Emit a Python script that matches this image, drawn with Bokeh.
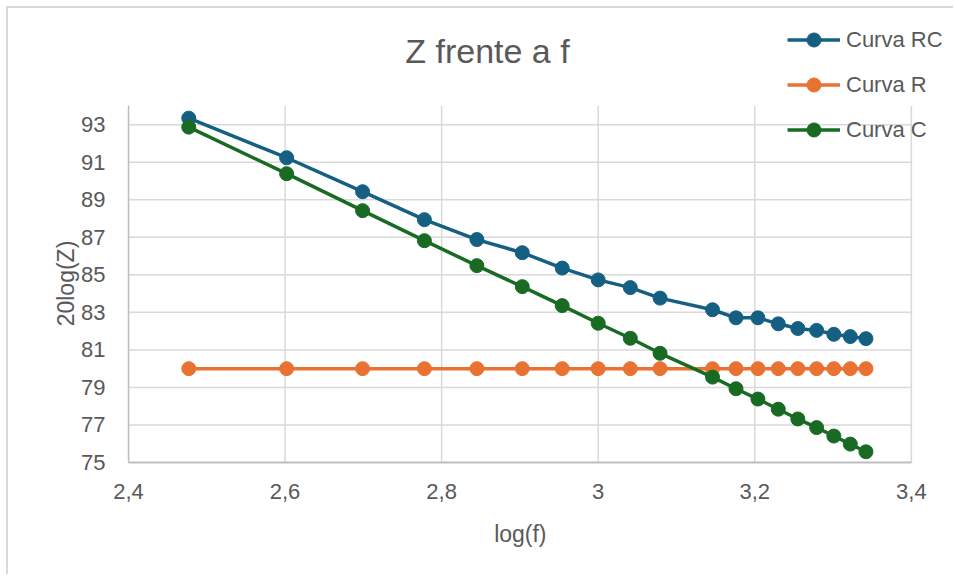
from bokeh.plotting import figure
from bokeh.models import FixedTicker, CustomJSTickFormatter, Legend, LegendItem, Range1d, Label
from bokeh.embed import file_html
from bokeh.resources import INLINE

# ---- data ----
log_f = [2.477, 2.602, 2.699, 2.778, 2.845, 2.903, 2.954, 3.000, 3.041, 3.079,
         3.146, 3.176, 3.204, 3.230, 3.255, 3.279, 3.301, 3.322, 3.342]
curva_rc = [93.35, 91.24, 89.43, 87.94, 86.88, 86.18, 85.36, 84.73, 84.32, 83.76,
            83.14, 82.71, 82.71, 82.39, 82.14, 82.04, 81.83, 81.71, 81.60]
curva_r = [80.0, 80.0, 80.0, 80.0, 80.0, 80.0, 80.0, 80.0, 80.0, 80.0,
           80.0, 80.0, 80.0, 80.0, 80.0, 80.0, 80.0, 80.0, 80.0]
curva_c = [92.87, 90.39, 88.42, 86.82, 85.49, 84.37, 83.36, 82.42, 81.62, 80.82,
           79.55, 78.93, 78.38, 77.84, 77.32, 76.86, 76.41, 75.98, 75.57]

series_names = ["Curva RC", "Curva R", "Curva C"]
series_values = [curva_rc, curva_r, curva_c]
series_colors = ["#156082", "#E97132", "#196B24"]

x_ticks = [2.4, 2.6, 2.8, 3.0, 3.2, 3.4]
y_ticks = [75, 77, 79, 81, 83, 85, 87, 89, 91, 93]
x_axis_min, x_axis_max = 2.4, 3.4
y_axis_min, y_axis_max = 75, 94

TXT = "#595959"
GRID = "#d9d9d9"
FONT = "Liberation Sans"
NBSP = "\u00a0"

# the frame is extended up/right so the legend (which sits outside the
# axis box in the reference) is not clipped; axes and grid keep their bounds
p = figure(width=947, height=568, output_backend="svg", toolbar_location=None,
           x_range=Range1d(2.4, 3.45), y_range=Range1d(75, 98.5),
           min_border_left=120, min_border_right=5,
           min_border_top=13, min_border_bottom=114)
p.styles = {"margin-left": "6px", "margin-top": "6px",
            "border-left": "2px solid #d9d9d9", "border-top": "2px solid #d9d9d9"}

p.outline_line_color = None
p.background_fill_color = "white"
p.border_fill_color = "white"
p.xgrid.visible = False
p.ygrid.visible = False

p.xaxis.ticker = FixedTicker(ticks=x_ticks)
p.yaxis.ticker = FixedTicker(ticks=y_ticks)
p.xaxis.bounds = (x_axis_min, x_axis_max)
p.yaxis.bounds = (y_axis_min, y_axis_max)
p.xaxis.formatter = CustomJSTickFormatter(
    code="var s = tick.toFixed(1); if (s.endsWith('.0')) { s = s.slice(0, -2); } return s.replace('.', ',');")

for ax in (p.xaxis[0], p.yaxis[0]):
    ax.major_tick_line_color = None
    ax.minor_tick_line_color = None
    ax.major_tick_out = 0
    ax.major_tick_in = 0
    ax.major_label_text_font = FONT
    ax.major_label_text_font_size = "22px"
    ax.major_label_text_color = TXT
    ax.axis_label_text_font = FONT
    ax.axis_label_text_font_size = "23px"
    ax.axis_label_text_font_style = "normal"
    ax.axis_label_text_color = TXT

# non-breaking spaces re-centre the labels on the axis box instead of the extended frame
p.xaxis.axis_label = "log(f)" + NBSP * 6
p.yaxis.axis_label = "20log(Z)" + NBSP * 13
p.xaxis.axis_line_color = "#bfbfbf"
p.xaxis.axis_line_width = 2
p.yaxis.axis_line_color = "#bfbfbf"
p.yaxis.axis_line_width = 1.5
p.xaxis.major_label_standoff = 21
p.yaxis.major_label_standoff = 23
p.xaxis.axis_label_standoff = 19
p.yaxis.axis_label_standoff = -1

# grid lines limited to the axis box
p.segment(x0=x_ticks, y0=[y_axis_min] * len(x_ticks), x1=x_ticks, y1=[y_axis_max] * len(x_ticks),
          line_color=GRID, line_width=1.5)
p.segment(x0=[x_axis_min] * len(y_ticks), y0=y_ticks, x1=[x_axis_max] * len(y_ticks), y1=y_ticks,
          line_color=GRID, line_width=1.5)

items = []
for name, vals, col in zip(series_names, series_values, series_colors):
    ln = p.line(log_f, vals, line_color=col, line_width=3.5)
    sc = p.scatter(log_f, vals, size=14, fill_color=col, line_color=col, line_width=1)
    items.append(LegendItem(label=name, renderers=[ln, sc]))

legend = Legend(items=items, location=(659, 315), orientation="vertical",
                glyph_width=53, glyph_height=35, label_height=35,
                spacing=10, padding=0, margin=0, label_standoff=6,
                label_text_font=FONT, label_text_font_size="22px",
                label_text_color=TXT, border_line_color=None,
                background_fill_alpha=0)
p.add_layout(legend, "center")

title = Label(x=2.8585, y=96.95, text="Z frente a f", text_align="center",
              text_baseline="middle", text_font=FONT, text_font_size="34px",
              text_color=TXT)
p.add_layout(title)

open("out.html", "w").write(file_html(p, INLINE))
